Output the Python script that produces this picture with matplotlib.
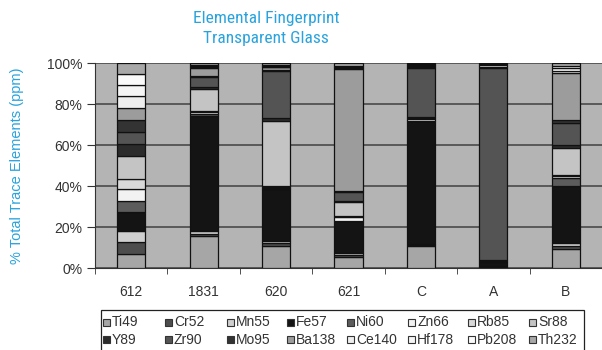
import numpy as np
import matplotlib
matplotlib.use("Agg")
import matplotlib.pyplot as plt
from matplotlib.patches import Rectangle

# samples along the x axis
samples = ["612", "1831", "620", "621", "C", "A", "B"]

# share of each element (%), bottom to top
Ti49 = [6.8, 15.8, 11.0, 5.7, 11.0, 0.5, 9.3]
Cr52 = [6.0, 0.8, 1.3, 0.8, 0.5, 0.3, 1.3]
Mn55 = [5.5, 1.3, 1.0, 0.7, 0.3, 0.2, 1.6]
Fe57 = [9.3, 56.0, 25.7, 15.5, 60.0, 2.3, 27.6]
Ni60 = [5.4, 1.0, 0.5, 0.3, 0.3, 0.2, 4.0]
Zn66 = [5.5, 0.5, 0.3, 2.0, 1.0, 0.2, 0.8]
Rb85 = [4.9, 0.5, 0.5, 0.3, 0.3, 0.1, 0.5]
Sr88 = [11.4, 11.0, 32.0, 7.0, 0.3, 0.2, 13.3]
Y89 = [5.9, 1.0, 1.0, 0.5, 0.3, 0.1, 1.6]
Zr90 = [5.5, 4.5, 23.0, 4.0, 24.0, 94.0, 10.5]
Mo95 = [5.9, 0.5, 0.5, 0.8, 0.5, 0.5, 1.3]
Ba138 = [5.7, 4.0, 1.6, 59.0, 0.5, 0.2, 23.0]
Ce140 = [6.0, 0.5, 0.3, 0.5, 0.3, 1.0, 1.2]
Hf178 = [5.2, 0.5, 0.3, 0.3, 0.2, 0.3, 1.0]
Pb208 = [5.4, 0.3, 0.3, 0.3, 0.2, 0.2, 1.0]
Th232 = [5.4, 1.0, 1.0, 1.5, 0.5, 0.1, 1.5]

elements = ["Ti49", "Cr52", "Mn55", "Fe57", "Ni60", "Zn66", "Rb85", "Sr88",
            "Y89", "Zr90", "Mo95", "Ba138", "Ce140", "Hf178", "Pb208", "Th232"]
values = [Ti49, Cr52, Mn55, Fe57, Ni60, Zn66, Rb85, Sr88,
          Y89, Zr90, Mo95, Ba138, Ce140, Hf178, Pb208, Th232]
colors = ["#a6a6a6", "#4d4d4d", "#cfcfcf", "#141414", "#5c5c5c", "#f2f2f2",
          "#d9d9d9", "#c4c4c4", "#2b2b2b", "#545454", "#333333", "#9c9c9c",
          "#eeeeee", "#f5f5f5", "#fafafa", "#a8a8a8"]

data = np.array(values, dtype=float)
data = data / data.sum(axis=0) * 100  # 100% stacked

blue = "#29a3dd"
W, H = 602, 350
plt.rcParams["font.family"] = ["Liberation Sans", "DejaVu Sans"]

fig = plt.figure(figsize=(W / 100, H / 100), dpi=100)
ax = fig.add_axes([95 / W, 1 - 268.3 / H, 1 - 95 / W, (268.3 - 63.3) / H])
ax.set_facecolor("#b4b4b4")

x = np.arange(len(samples))
bottom = np.zeros(len(samples))
for name, row, c in zip(elements, data, colors):
    ax.bar(x, row, bottom=bottom, width=0.39, color=c, edgecolor="#111111",
           linewidth=0.9, zorder=3)
    bottom += row

ax.set_xlim(-0.5, len(samples) - 0.5)
ax.set_ylim(0, 100)
ax.set_yticks(np.arange(0, 101, 20))
ax.set_yticklabels([f"{v}%" for v in range(0, 101, 20)], fontsize=10, color="#333333")
ax.yaxis.grid(True, color="#4a4a4a", linewidth=1.2, zorder=1)
ax.set_axisbelow(True)

ax.set_xticks(x)
ax.set_xticklabels(samples, fontsize=10, color="#333333")
ax.set_xticks(np.arange(-0.5, len(samples), 1), minor=True)
ax.tick_params(axis="x", which="major", length=0, pad=12)
ax.tick_params(axis="x", which="minor", length=4, color="#333333", direction="out")
ax.tick_params(axis="y", length=6, color="#333333", pad=3)

for s in ["top", "right"]:
    ax.spines[s].set_visible(False)
ax.spines["left"].set_color("#333333")
ax.spines["bottom"].set_color("#333333")

ax.set_ylabel("% Total Trace Elements (ppm)", color=blue, fontsize=10.5)
ax.yaxis.set_label_coords(-0.14, 0.5)

fig.text(266 / W, 1 - 11 / H, "Elemental Fingerprint\nTransparent Glass",
         ha="center", va="top", color=blue, fontsize=12.5, linespacing=1.38,
         family=["Roboto Condensed", "Liberation Sans Narrow", "Liberation Sans", "DejaVu Sans"])

# legend box drawn by hand: two rows of eight, fixed column pitch like the original
def fx(px):
    return px / W

def fy(py):
    return 1 - py / H

fig.add_artist(Rectangle((fx(101), fy(353)), fx(584) - fx(101), fy(310) - fy(353),
                         transform=fig.transFigure, facecolor="white",
                         edgecolor="#222222", linewidth=0.9))
col_x = [103, 165, 227, 287, 347, 408, 468, 529]
row_y = [322, 339]
for i, (name, c) in enumerate(zip(elements, colors)):
    cx = col_x[i % 8]
    cy = row_y[i // 8]
    fig.add_artist(Rectangle((fx(cx), fy(cy + 3.5)), 7 / W, 7 / H,
                             transform=fig.transFigure, facecolor=c,
                             edgecolor="#333333", linewidth=0.8))
    fig.text(fx(cx + 9), fy(cy + 0.5), name, ha="left", va="center",
             fontsize=10, color="#333333")

fig.savefig("out.png", dpi=100)
